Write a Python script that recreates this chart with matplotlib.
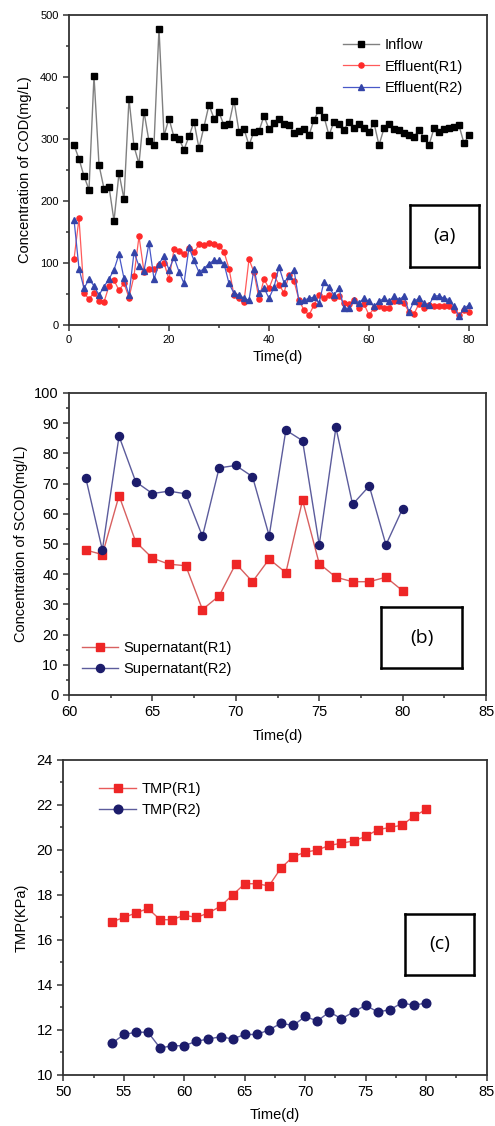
import numpy as np
import matplotlib
matplotlib.use("Agg")
import matplotlib.pyplot as plt
from matplotlib.ticker import MultipleLocator

plt.rcParams["font.family"] = ["Liberation Sans", "DejaVu Sans"]

# ---- panel (a): COD
days_a = list(range(1, 81))
inflow = [290, 268, 240, 218, 402, 258, 220, 223, 168, 245,
          203, 365, 288, 260, 344, 296, 291, 478, 305, 333,
          303, 300, 283, 304, 328, 285, 320, 355, 333, 343,
          322, 324, 362, 312, 316, 290, 312, 313, 337, 316,
          325, 332, 324, 322, 310, 313, 316, 306, 331, 347,
          336, 306, 328, 324, 315, 328, 317, 324, 318, 311,
          326, 290, 317, 324, 316, 315, 310, 306, 303, 315,
          302, 290, 317, 311, 316, 318, 320, 322, 293, 306]
effluent_r1 = [106, 172, 51, 42, 52, 38, 37, 63, 72, 56,
               67, 44, 79, 143, 86, 91, 90, 97, 100, 74,
               122, 119, 114, 124, 117, 130, 129, 133, 130, 128,
               118, 91, 48, 43, 37, 106, 85, 42, 74, 59,
               80, 65, 52, 80, 71, 40, 24, 16, 32, 48,
               44, 49, 43, 46, 35, 34, 40, 28, 34, 16,
               27, 30, 27, 28, 38, 38, 35, 21, 18, 34,
               27, 32, 31, 30, 30, 30, 24, 16, 24, 21]
effluent_r2 = [170, 91, 59, 74, 63, 48, 62, 74, 89, 114,
               75, 48, 117, 95, 87, 132, 74, 99, 111, 89,
               109, 86, 67, 125, 104, 85, 91, 99, 104, 104,
               99, 67, 51, 48, 43, 40, 91, 52, 60, 43,
               61, 94, 68, 79, 89, 38, 40, 43, 45, 35,
               70, 61, 48, 60, 27, 27, 40, 36, 43, 38,
               30, 38, 43, 38, 46, 40, 47, 21, 38, 43,
               35, 32, 47, 47, 43, 41, 30, 14, 27, 32]

# ---- panel (b): SCOD
days_b = list(range(61, 81))
scod_r1 = [48, 46.5, 66, 50.7, 45.3, 43.3, 42.8, 28.3, 32.8, 43.5,
           37.5, 45, 40.5, 64.5, 43.5, 39, 37.5, 37.5, 39, 34.5]
scod_r2 = [72, 48, 85.7, 70.6, 66.7, 67.5, 66.6, 52.5, 75.2, 76,
           72.3, 52.7, 87.7, 84.2, 49.7, 88.6, 63.1, 69.2, 49.7, 61.7]

# ---- panel (c): TMP
days_c = list(range(54, 81))
tmp_r1 = [16.8, 17.0, 17.2, 17.4, 16.9, 16.9, 17.1, 17.0, 17.2, 17.5,
          18.0, 18.5, 18.5, 18.4, 19.2, 19.7, 19.9, 20.0, 20.2, 20.3,
          20.4, 20.6, 20.9, 21.0, 21.1, 21.5, 21.8]
tmp_r2 = [11.4, 11.8, 11.9, 11.9, 11.2, 11.3, 11.3, 11.5, 11.6, 11.7,
          11.6, 11.8, 11.8, 12.0, 12.3, 12.2, 12.6, 12.4, 12.8, 12.5,
          12.8, 13.1, 12.8, 12.9, 13.2, 13.1, 13.2]

FS = 10.5


def style_axes(ax, tick_fs):
    for s in ax.spines.values():
        s.set_linewidth(1.3)
        s.set_color("#333333")
    ax.tick_params(which="both", direction="out", top=False, right=False,
                   labelsize=tick_fs, width=1.1, color="#333333")
    ax.tick_params(which="major", length=4)
    ax.tick_params(which="minor", length=2.5)


def panel_tag(fig, text, x0, y0, x1, y1):
    W, H = 495.0, 1126.0
    box = fig.add_axes([x0 / W, 1 - y1 / H, (x1 - x0) / W, (y1 - y0) / H])
    box.set_xticks([])
    box.set_yticks([])
    for s in box.spines.values():
        s.set_linewidth(1.8)
        s.set_color("black")
    box.text(0.5, 0.5, text, ha="center", va="center", fontsize=14,
             family=["Open Sans", "DejaVu Sans"])


def add_legend(ax, anchor):
    ax.legend(loc="upper left", bbox_to_anchor=anchor, frameon=False,
              fontsize=FS, handlelength=2.5, handletextpad=0.4, borderpad=0,
              borderaxespad=0, labelspacing=0.5)


fig = plt.figure(figsize=(4.95, 11.26), dpi=100)

# (a)
ax1 = fig.add_axes([0.1394, 0.7114, 0.8444, 0.2753])
ax1.plot(days_a, inflow, "-", color="#808080", lw=1.0, marker="s", ms=4.6,
         mfc="black", mec="black", label="Inflow")
ax1.plot(days_a, effluent_r1, "-", color="#ff5a5a", lw=0.9, marker="o", ms=3.7,
         mfc="#ff2a2a", mec="#ff2a2a", label="Effluent(R1)")
ax1.plot(days_a, effluent_r2, "-", color="#4858c8", lw=0.9, marker="^", ms=4.1,
         mfc="#3444a8", mec="#3444a8", label="Effluent(R2)")
ax1.set_xlim(0, 83.6)
ax1.set_ylim(0, 500)
ax1.xaxis.set_major_locator(MultipleLocator(20))
ax1.xaxis.set_minor_locator(MultipleLocator(10))
ax1.yaxis.set_major_locator(MultipleLocator(100))
ax1.yaxis.set_minor_locator(MultipleLocator(50))
style_axes(ax1, 8)
ax1.set_xlabel("Time(d)", fontsize=FS, labelpad=3)
ax1.set_ylabel("Concentration of COD(mg/L)", fontsize=FS, labelpad=6)
add_legend(ax1, (0.655, 0.925))

# (b)
ax2 = fig.add_axes([0.1394, 0.3828, 0.8425, 0.2682])
ax2.plot(days_b, scod_r1, "-", color="#d86060", lw=1.0, marker="s", ms=5.5,
         mfc="#ee2626", mec="#ee2626", label="Supernatant(R1)")
ax2.plot(days_b, scod_r2, "-", color="#5c5c9c", lw=1.0, marker="o", ms=5.8,
         mfc="#1c1c6b", mec="#1c1c6b", label="Supernatant(R2)")
ax2.set_xlim(60, 85)
ax2.set_ylim(0, 100)
ax2.xaxis.set_major_locator(MultipleLocator(5))
ax2.xaxis.set_minor_locator(MultipleLocator(2.5))
ax2.yaxis.set_major_locator(MultipleLocator(10))
ax2.yaxis.set_minor_locator(MultipleLocator(5))
style_axes(ax2, FS)
ax2.set_xlabel("Time(d)", fontsize=FS, labelpad=7)
ax2.set_ylabel("Concentration of SCOD(mg/L)", fontsize=FS, labelpad=4)
add_legend(ax2, (0.03, 0.18))

# (c)
ax3 = fig.add_axes([0.128, 0.0453, 0.855, 0.2798])
ax3.plot(days_c, tmp_r1, "-", color="#e85a5a", lw=1.0, marker="s", ms=5.5,
         mfc="#ee2626", mec="#ee2626", label="TMP(R1)")
ax3.plot(days_c, tmp_r2, "-", color="#5c5c9c", lw=1.0, marker="o", ms=6.2,
         mfc="#1c1c6b", mec="#1c1c6b", label="TMP(R2)")
ax3.set_xlim(50, 85)
ax3.set_ylim(10, 24)
ax3.xaxis.set_major_locator(MultipleLocator(5))
ax3.xaxis.set_minor_locator(MultipleLocator(2.5))
ax3.yaxis.set_major_locator(MultipleLocator(2))
ax3.yaxis.set_minor_locator(MultipleLocator(1))
style_axes(ax3, FS)
ax3.set_xlabel("Time(d)", fontsize=FS, labelpad=6)
ax3.set_ylabel("TMP(KPa)", fontsize=FS, labelpad=6)
add_legend(ax3, (0.085, 0.93))

panel_tag(fig, "(a)", 410, 205, 479, 267)
panel_tag(fig, "(b)", 381, 607, 462, 668)
panel_tag(fig, "(c)", 405, 914, 474, 975)

fig.savefig("out.png", dpi=100)
